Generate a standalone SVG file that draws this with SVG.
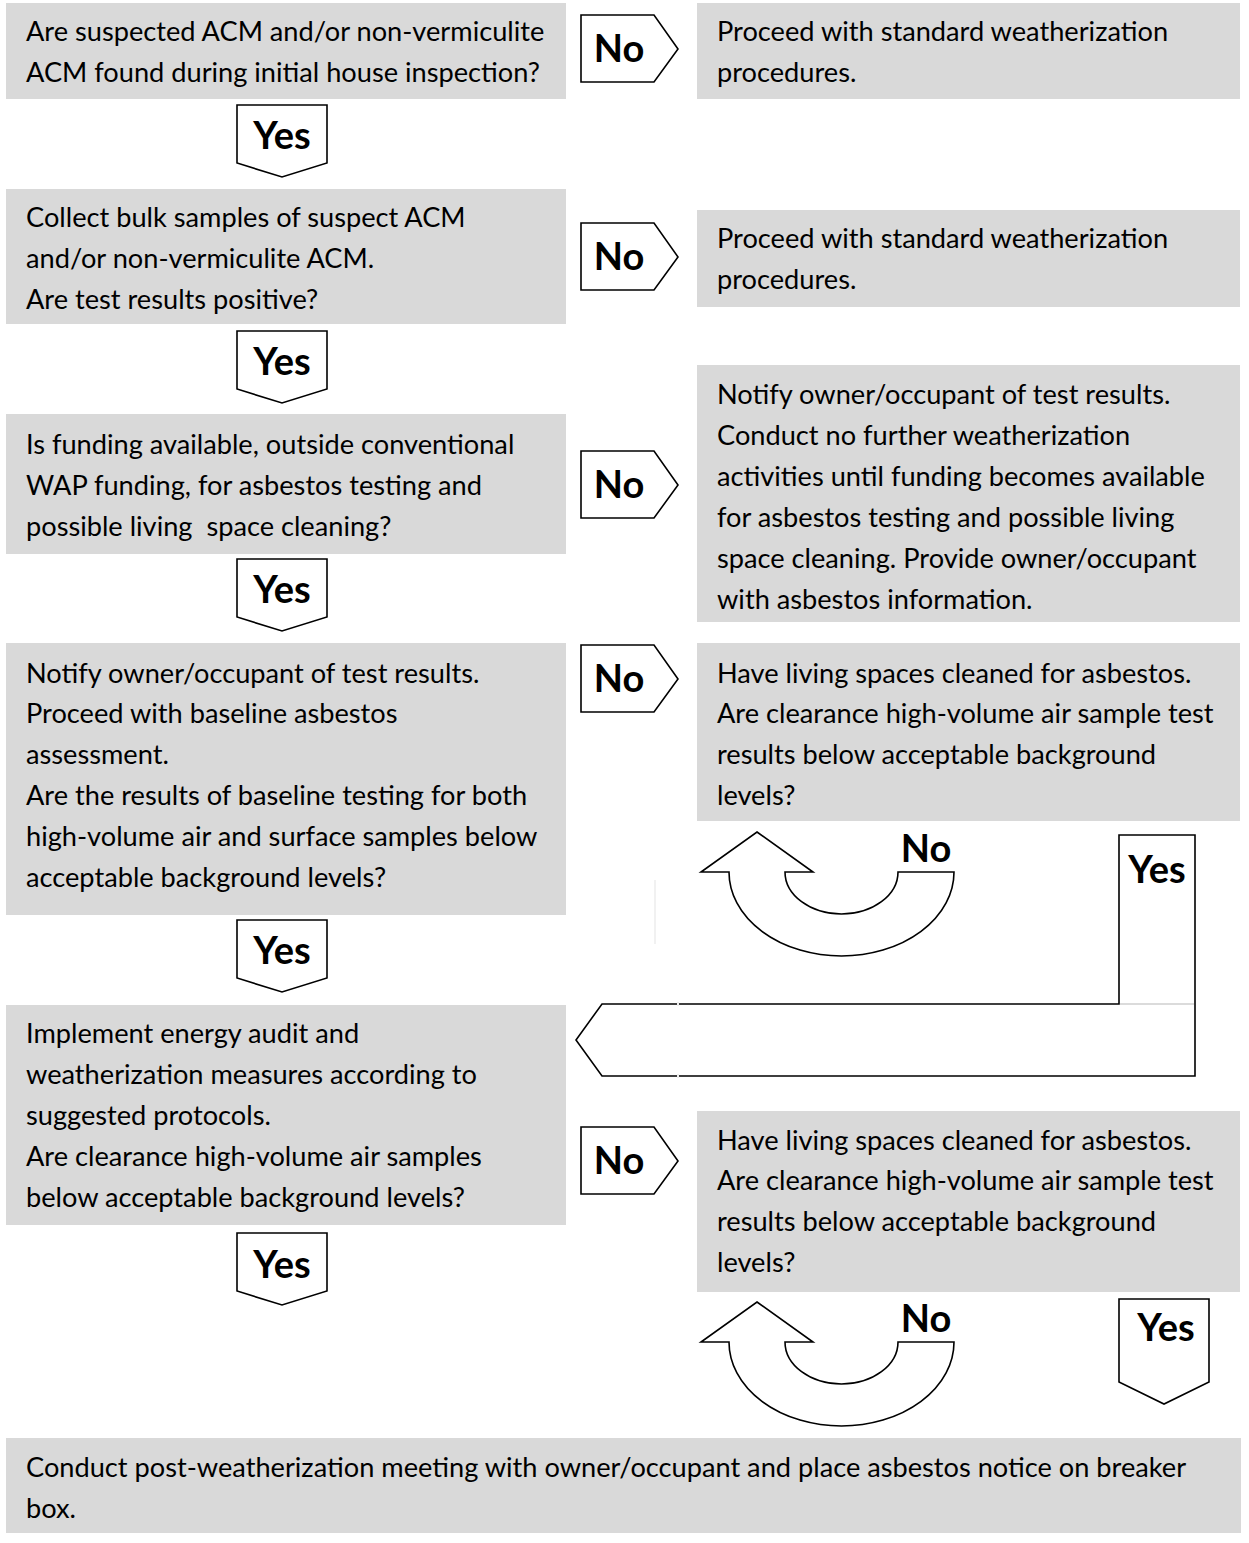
<svg xmlns="http://www.w3.org/2000/svg" width="1249" height="1543" viewBox="0 0 1249 1543">
<style>
.box{fill:#d9d9d9;stroke:none}
.t{font-family:Lato,"Open Sans","Liberation Sans",sans-serif;font-size:27.2px;fill:#000}
.arr{fill:#fff;stroke:#000;stroke-width:1.6;stroke-linejoin:miter}
.lab{font-family:Lato,"Open Sans","Liberation Sans",sans-serif;font-size:38px;font-weight:bold;fill:#000;text-anchor:middle}
</style>
<rect width="1249" height="1543" fill="#fff"/>

<g id="n1"><rect class="box" x="6" y="3" width="560" height="96"/>
<text class="t" x="26" y="41">Are suspected ACM and/or non-vermiculite</text>
<text class="t" x="26" y="82">ACM found during initial house inspection?</text></g>

<g id="n2"><rect class="box" x="697" y="3" width="543" height="96"/>
<text class="t" x="717" y="41">Proceed with standard weatherization</text>
<text class="t" x="717" y="82">procedures.</text></g>

<g id="n3"><rect class="box" x="6" y="189" width="560" height="135"/>
<text class="t" x="26" y="227">Collect bulk samples of suspect ACM</text>
<text class="t" x="26" y="268">and/or non-vermiculite ACM.</text>
<text class="t" x="26" y="309">Are test results positive?</text></g>

<g id="n4"><rect class="box" x="697" y="210" width="543" height="97"/>
<text class="t" x="717" y="248">Proceed with standard weatherization</text>
<text class="t" x="717" y="289">procedures.</text></g>

<g id="n5"><rect class="box" x="6" y="414" width="560" height="140"/>
<text class="t" x="26" y="454">Is funding available, outside conventional</text>
<text class="t" x="26" y="495">WAP funding, for asbestos testing and</text>
<text class="t" x="26" y="536" xml:space="preserve">possible living  space cleaning?</text></g>

<g id="n6"><rect class="box" x="697" y="365" width="543" height="257"/>
<text class="t" x="717" y="404">Notify owner/occupant of test results.</text>
<text class="t" x="717" y="445">Conduct no further weatherization</text>
<text class="t" x="717" y="486">activities until funding becomes available</text>
<text class="t" x="717" y="527">for asbestos testing and possible living</text>
<text class="t" x="717" y="568">space cleaning. Provide owner/occupant</text>
<text class="t" x="717" y="609">with asbestos information.</text></g>

<g id="n7"><rect class="box" x="6" y="643" width="560" height="272"/>
<text class="t" x="26" y="683">Notify owner/occupant of test results.</text>
<text class="t" x="26" y="723">Proceed with baseline asbestos</text>
<text class="t" x="26" y="764">assessment.</text>
<text class="t" x="26" y="805">Are the results of baseline testing for both</text>
<text class="t" x="26" y="846">high-volume air and surface samples below</text>
<text class="t" x="26" y="887">acceptable background levels?</text></g>

<g id="n8"><rect class="box" x="697" y="643" width="543" height="178"/>
<text class="t" x="717" y="683">Have living spaces cleaned for asbestos.</text>
<text class="t" x="717" y="723">Are clearance high-volume air sample test</text>
<text class="t" x="717" y="764">results below acceptable background</text>
<text class="t" x="717" y="805">levels?</text></g>

<g id="n9"><rect class="box" x="6" y="1005" width="560" height="220"/>
<text class="t" x="26" y="1043">Implement energy audit and</text>
<text class="t" x="26" y="1084">weatherization measures according to</text>
<text class="t" x="26" y="1125">suggested protocols.</text>
<text class="t" x="26" y="1166">Are clearance high-volume air samples</text>
<text class="t" x="26" y="1207">below acceptable background levels?</text></g>

<g id="n10"><rect class="box" x="697" y="1111" width="543" height="181"/>
<text class="t" x="717" y="1150">Have living spaces cleaned for asbestos.</text>
<text class="t" x="717" y="1190">Are clearance high-volume air sample test</text>
<text class="t" x="717" y="1231">results below acceptable background</text>
<text class="t" x="717" y="1272">levels?</text></g>

<g id="n11"><rect class="box" x="6" y="1438" width="1235" height="95"/>
<text class="t" x="26" y="1477">Conduct post-weatherization meeting with owner/occupant and place asbestos notice on breaker</text>
<text class="t" x="26" y="1518">box.</text></g>

<g id="connectors">
<g id="no1"><polygon class="arr" points="581,15 654,15 678,49 654,82 581,82"/><text class="lab" x="619" y="62">No</text></g>
<g id="no2"><polygon class="arr" points="581,223 654,223 678,257 654,290 581,290"/><text class="lab" x="619" y="270">No</text></g>
<g id="no3"><polygon class="arr" points="581,451 654,451 678,485 654,518 581,518"/><text class="lab" x="619" y="498">No</text></g>
<g id="no4"><polygon class="arr" points="581,645 654,645 678,679 654,712 581,712"/><text class="lab" x="619" y="692">No</text></g>
<g id="no5"><polygon class="arr" points="581,1127 654,1127 678,1161 654,1194 581,1194"/><text class="lab" x="619" y="1174">No</text></g>
<g id="yes1"><polygon class="arr" points="237,105 327,105 327,163 282,177 237,163"/><text class="lab" x="282" y="149">Yes</text></g>
<g id="yes2"><polygon class="arr" points="237,331 327,331 327,389 282,403 237,389"/><text class="lab" x="282" y="375">Yes</text></g>
<g id="yes3"><polygon class="arr" points="237,559 327,559 327,617 282,631 237,617"/><text class="lab" x="282" y="603">Yes</text></g>
<g id="yes4"><polygon class="arr" points="237,920 327,920 327,978 282,992 237,978"/><text class="lab" x="282" y="964">Yes</text></g>
<g id="yes5"><polygon class="arr" points="237,1233 327,1233 327,1291 282,1305 237,1291"/><text class="lab" x="282" y="1278">Yes</text></g>
<g id="yes6"><polygon class="arr" points="1119,1299 1209,1299 1209,1382 1164,1404 1119,1382"/><text class="lab" x="1166" y="1341">Yes</text></g>
<g id="loop1"><path class="arr" d="M757,832 L813,872 L785,872 A56.5,42 0 0 0 898,872 L954,872 A112.5,84 0 0 1 729,872 L701,872 Z"/><text class="lab" x="926" y="862">No</text></g>
<g id="loop2"><path class="arr" d="M757,1302 L813,1342 L785,1342 A56.5,42 0 0 0 898,1342 L954,1342 A112.5,84 0 0 1 729,1342 L701,1342 Z"/><text class="lab" x="926" y="1332">No</text></g>
<g id="yesL"><polygon class="arr" points="1119,835 1195,835 1195,1076 602,1076 576,1040 602,1004 1119,1004"/>
<line x1="1120" y1="1004" x2="1194" y2="1004" stroke="#cfcfcf" stroke-width="1.5"/>
<rect x="677" y="1002" width="2" height="4" fill="#eee"/><rect x="677" y="1074" width="2" height="4" fill="#eee"/>
<text class="lab" x="1157" y="883">Yes</text></g>
<line x1="655" y1="880" x2="655" y2="944" stroke="#e3e3e3" stroke-width="1"/>
</g>
</svg>
